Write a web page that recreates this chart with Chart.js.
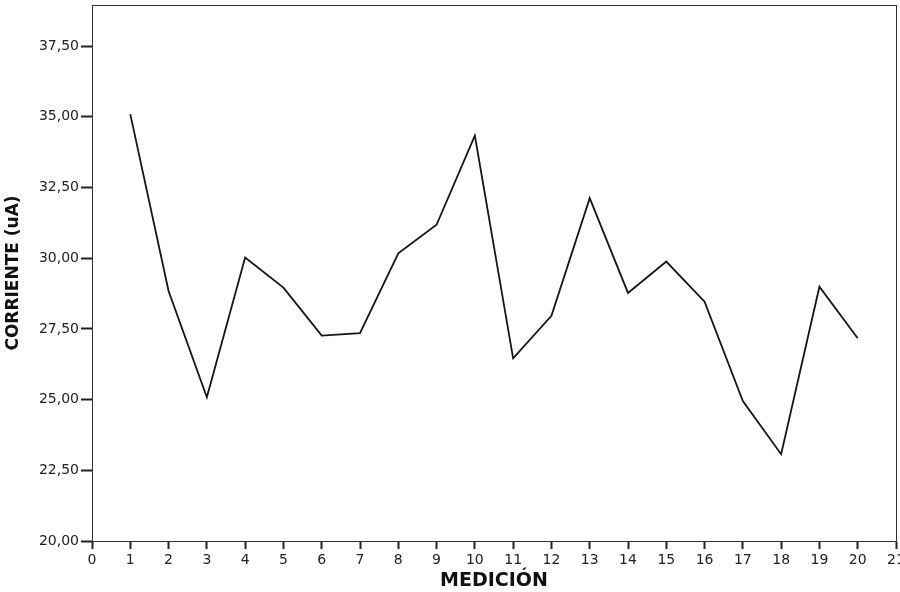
<!DOCTYPE html>
<html>
<head>
<meta charset="utf-8">
<script src="https://cdn.jsdelivr.net/npm/chart.js@4.4.0/dist/chart.umd.min.js"></script>
<style>
  body { margin: 0; background: #fff; }
</style>
</head>
<body>
<canvas id="myChart" width="900" height="592"></canvas>
<script>
const mediciones = [1, 2, 3, 4, 5, 6, 7, 8, 9, 10, 11, 12, 13, 14, 15, 16, 17, 18, 19, 20];
const corriente = [35.09, 28.84, 25.08, 30.02, 28.96, 27.26, 27.35, 30.17, 31.18, 34.33,
                   26.46, 27.96, 32.12, 28.77, 29.88, 28.46, 24.95, 23.07, 28.99, 27.17];
const yTicks = [20, 22.5, 25, 27.5, 30, 32.5, 35, 37.5];
const xTicks = [0, 1, 2, 3, 4, 5, 6, 7, 8, 9, 10, 11, 12, 13, 14, 15, 16, 17, 18, 19, 20, 21];

const points = mediciones.map((m, i) => ({ x: m, y: corriente[i] }));

// marco alrededor del area del grafico
const frame = {
  id: 'frame',
  afterDraw(chart) {
    const { ctx, chartArea: a } = chart;
    ctx.save();
    ctx.strokeStyle = '#333';
    ctx.lineWidth = 1;
    ctx.strokeRect(a.left + 0.5, a.top + 0.5, a.right - a.left, a.bottom - a.top);
    ctx.restore();
  }
};

const ctx = document.getElementById('myChart');
new Chart(ctx, {
  type: 'line',
  data: {
    datasets: [{
      data: points,
      borderColor: '#151515',
      borderWidth: 1.8,
      pointRadius: 0,
      fill: false,
      tension: 0
    }]
  },
  options: {
    responsive: false,
    animation: false,
    layout: { padding: { top: 5, right: 4, left: 0, bottom: 0 } },
    plugins: { legend: { display: false }, tooltip: { enabled: false } },
    scales: {
      x: {
        type: 'linear',
        min: 0,
        max: 21,
        afterBuildTicks: (scale) => { scale.ticks = xTicks.map(v => ({ value: v })); },
        afterFit: (scale) => { scale.height = 51; scale.paddingLeft = 0; scale.paddingRight = 0; },
        grid: { drawOnChartArea: false, tickLength: 8, color: '#222', tickWidth: 2 },
        border: { display: true, color: '#222', width: 1 },
        ticks: {
          color: '#222',
          padding: 3,
          maxRotation: 0,
          autoSkip: false,
          font: { family: 'DejaVu Sans', size: 14 }
        },
        title: {
          display: true,
          text: 'MEDICIÓN',
          color: '#111',
          padding: { top: 0, bottom: 0 },
          font: { family: 'DejaVu Sans', size: 19, weight: 'bold' }
        }
      },
      y: {
        min: 20,
        max: 38.95,
        afterBuildTicks: (scale) => { scale.ticks = yTicks.map(v => ({ value: v })); },
        afterFit: (scale) => { scale.width = 92; scale.paddingTop = 0; scale.paddingBottom = 0; },
        grid: { drawOnChartArea: false, tickLength: 11, color: '#222', tickWidth: 2 },
        border: { display: true, color: '#222', width: 1 },
        ticks: {
          color: '#222',
          padding: 2,
          font: { family: 'DejaVu Sans', size: 14 },
          callback: (v) => v.toFixed(2).replace('.', ',')
        },
        title: {
          display: true,
          text: 'CORRIENTE (uA)',
          color: '#111',
          padding: { top: 3, bottom: 0 },
          font: { family: 'DejaVu Sans', size: 17, weight: 'bold' }
        }
      }
    }
  },
  plugins: [frame]
});
</script>
</body>
</html>
